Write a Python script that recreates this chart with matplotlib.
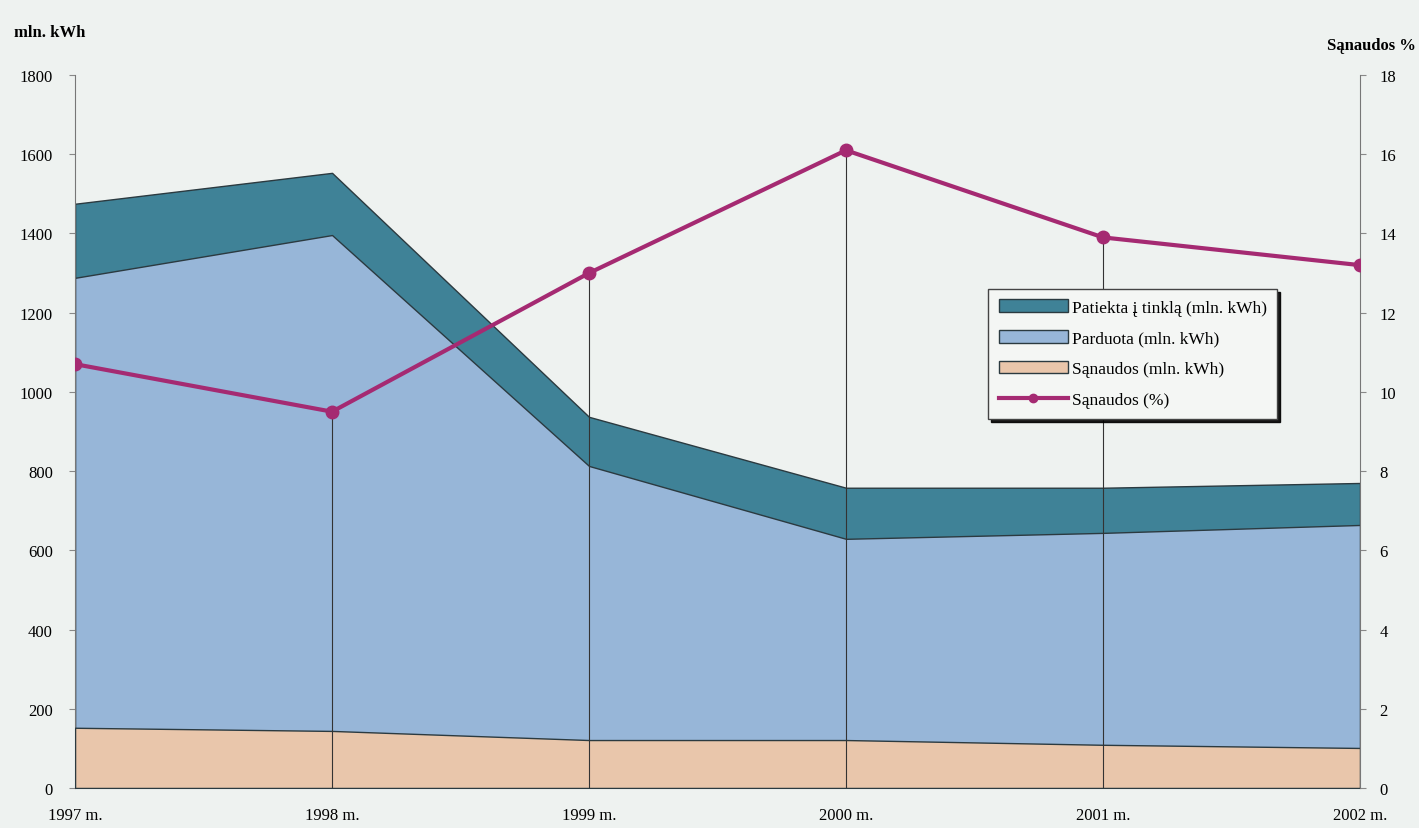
import numpy as np
import matplotlib.pyplot as plt
from matplotlib.patches import Patch
from matplotlib.lines import Line2D

# --- data ---
years = ["1997 m.", "1998 m.", "1999 m.", "2000 m.", "2001 m.", "2002 m."]
patiekta = [1475, 1553, 937, 758, 758, 770]      # mln. kWh
parduota = [1288, 1396, 813, 629, 644, 664]      # mln. kWh
sanaudos = [152, 144, 121, 121, 109, 101]        # mln. kWh
sanaudos_pct = [10.7, 9.5, 13.0, 16.1, 13.9, 13.2]

# --- style ---
bg = "#eef2f0"
c_patiekta = "#3f8297"
c_parduota = "#97b6d8"
c_sanaudos = "#e9c6ab"
c_line = "#a52a72"
edge = "#2b3a40"

plt.rcParams["font.family"] = ["Liberation Serif", "DejaVu Serif"]

fig = plt.figure(figsize=(14.19, 8.29), dpi=100, facecolor=bg)
ax = fig.add_axes([0.0529, 0.0483, 0.9055, 0.86])
ax.set_facecolor(bg)

x = np.arange(len(years))
ax.fill_between(x, 0, patiekta, color=c_patiekta, edgecolor=edge, linewidth=1.0, zorder=1)
ax.fill_between(x, 0, parduota, color=c_parduota, edgecolor=edge, linewidth=1.0, zorder=2)
ax.fill_between(x, 0, sanaudos, color=c_sanaudos, edgecolor=edge, linewidth=1.0, zorder=3)

ax.set_xlim(0, len(years) - 1)
ax.set_ylim(0, 1800)
ax.set_yticks(np.arange(0, 1801, 200))
ax.set_xticks(x)
ax.set_xticklabels(years, fontsize=12)
ax.tick_params(axis="y", labelsize=12, length=4, pad=12, color="#888888")
ax.tick_params(axis="x", length=0, pad=14)
for s in ["top", "right"]:
    ax.spines[s].set_visible(False)
for s in ["left", "bottom"]:
    ax.spines[s].set_color("#777777")

# right axis with the percentage line
ax2 = ax.twinx()
ax2.set_ylim(0, 18)
ax2.set_yticks(np.arange(0, 19, 2))
ax2.tick_params(axis="y", labelsize=12, length=4, pad=10, color="#888888")
for s in ["top", "left", "bottom"]:
    ax2.spines[s].set_visible(False)
ax2.spines["right"].set_color("#777777")

# drop lines from the markers to the axis
ax2.vlines(x[1:-1], 0, sanaudos_pct[1:-1], color="#333333", linewidth=0.8, zorder=4)
ax2.plot(x, sanaudos_pct, color=c_line, linewidth=3, marker="o",
         markersize=9, zorder=5)

fig.text(0.01, 0.955, "mln. kWh", fontsize=12, fontweight="bold", ha="left")
fig.text(0.998, 0.94, "Sąnaudos %", fontsize=12, fontweight="bold", ha="right")

handles = [
    Patch(facecolor=c_patiekta, edgecolor=edge, label="Patiekta į tinklą (mln. kWh)"),
    Patch(facecolor=c_parduota, edgecolor=edge, label="Parduota (mln. kWh)"),
    Patch(facecolor=c_sanaudos, edgecolor=edge, label="Sąnaudos (mln. kWh)"),
    Line2D([0], [0], color=c_line, linewidth=3, marker="o", markersize=6, label="Sąnaudos (%)"),
]
leg = ax2.legend(handles=handles, loc="upper left", bbox_to_anchor=(0.704, 0.712),
                 fontsize=12.5, frameon=True, fancybox=False,
                 shadow={"color": "black", "alpha": 0.9},
                 handlelength=4.0, handletextpad=0.2, borderpad=0.6, labelspacing=0.85)
leg.get_frame().set_facecolor("#f4f6f4")
leg.get_frame().set_edgecolor("#444444")
leg.set_zorder(10)

fig.savefig("out.png", dpi=100, facecolor=bg)
